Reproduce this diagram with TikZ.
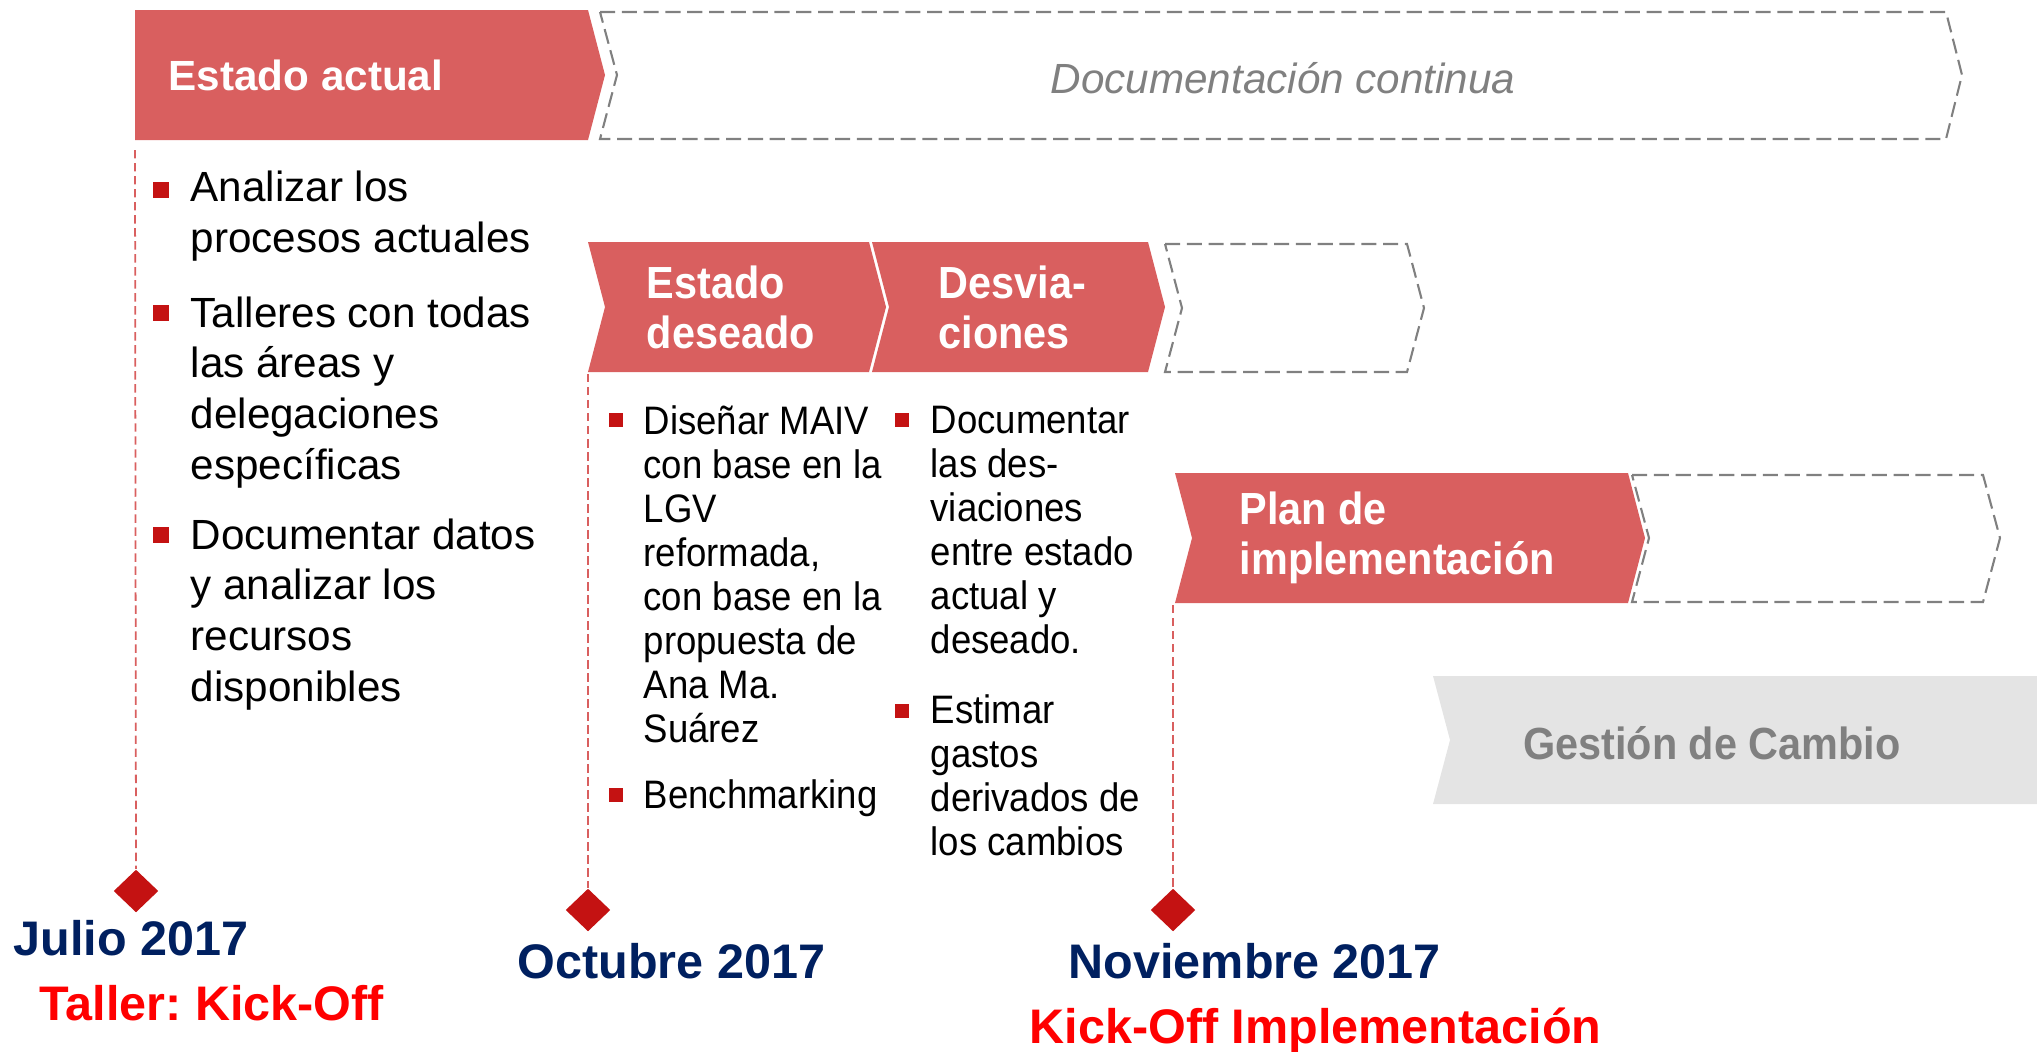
\documentclass[tikz,border=0pt]{standalone}
\usepackage{fontspec}
\setmainfont{Liberation Sans}
\newfontfamily\narrowfont[FakeStretch=0.92]{Liberation Sans}
\usetikzlibrary{shapes.geometric}
\frenchspacing

\definecolor{chevred}{RGB}{217,95,95}
\definecolor{bulred}{RGB}{196,18,18}
\definecolor{navy}{RGB}{0,32,96}
\definecolor{kickred}{RGB}{255,0,0}
\definecolor{dashgray}{RGB}{128,128,128}
\definecolor{changegray}{RGB}{228,228,228}

\tikzset{
  stage/.style={fill=chevred},
  later/.style={draw=dashgray, line width=0.6pt, dash pattern=on 4.3pt off 1.9pt},
  stagetext/.style={text=white, inner sep=0pt, align=left,
    font=\bfseries\fontsize{12}{14.4}\selectfont},
  narrowstage/.style={text=white, inner sep=0pt, align=left,
    font=\narrowfont\bfseries\fontsize{12.8}{14.2}\selectfont},
  latertext/.style={text=dashgray, inner sep=0pt,
    font=\itshape\fontsize{12}{14.4}\selectfont},
  % anchor base = baseline of the last line
  wideitem/.style={inner sep=0pt, align=left, anchor=base west,
    font=\fontsize{12}{14.4}\selectfont},
  narrowitem/.style={inner sep=0pt, align=left, anchor=base west,
    font=\narrowfont\fontsize{11.3}{12.5}\selectfont},
  bigsq/.style={fill=bulred, minimum size=0.165cm, inner sep=0pt},
  smallsq/.style={fill=bulred, minimum size=0.145cm, inner sep=0pt},
  tick/.style={draw=chevred, line width=0.5pt, dash pattern=on 2.4pt off 1.3pt},
  milestone/.style={diamond, fill=bulred, minimum width=0.45cm,
    minimum height=0.43cm, inner sep=0pt},
  datetext/.style={text=navy, inner sep=0pt, anchor=base west,
    font=\bfseries\fontsize{13.8}{16}\selectfont},
  eventtext/.style={text=kickred, inner sep=0pt, anchor=base west,
    font=\bfseries\fontsize{13.8}{16}\selectfont}
}

\begin{document}
\begin{tikzpicture}[x=0.01cm,y=-0.01cm]
  \useasboundingbox (0,0) rectangle (2037,1051);

  % Estado actual
  \fill[stage] (135,10) -- (588,10) -- (605,75) -- (588,140) -- (135,140) -- cycle;
  \node[stagetext, anchor=west] (actual) at (168,75) {Estado actual};
  \draw[later] (600,12) -- (1946,12) -- (1962,75) -- (1946,139) -- (600,139) -- (617,75) -- cycle;
  \node[latertext] (docu) at (1283,78) {Documentación continua};

  \node[bigsq] (sqA1) at (161,190) {};
  \node[wideitem] (itA1) at (190,252) {Analizar los\\procesos actuales};
  \node[bigsq] (sqA2) at (161,313) {};
  \node[wideitem] (itA2) at (190,479) {Talleres con todas\\las áreas y\\delegaciones\\específicas};
  \node[bigsq] (sqA3) at (161,535) {};
  \node[wideitem] (itA3) at (190,701) {Documentar datos\\y analizar los\\recursos\\disponibles};

  % Estado deseado / Desviaciones
  \fill[stage] (588,242) -- (869,242) -- (886,307) -- (869,372) -- (588,372) -- (605,307) -- cycle;
  \node[narrowstage, anchor=west] (deseado) at (646,307) {Estado\\deseado};
  \fill[stage] (872,242) -- (1148,242) -- (1165,307) -- (1148,372) -- (872,372) -- (889,307) -- cycle;
  \node[narrowstage, anchor=west] (desv) at (938,307) {Desvia-\\ciones};
  \draw[later] (1165,244) -- (1407,244) -- (1424,308) -- (1407,372) -- (1165,372) -- (1182,308) -- cycle;

  \node[smallsq] (sqB1) at (616,420) {};
  \node[narrowitem] (itB1) at (643,742) {Diseñar MAIV\\con base en la\\LGV\\reformada,\\con base en la\\propuesta de\\Ana Ma.\\Suárez};
  \node[smallsq] (sqB2) at (616,795) {};
  \node[narrowitem] (itB2) at (643,808) {Benchmarking};
  \node[smallsq] (sqC1) at (902,420) {};
  \node[narrowitem] (itC1) at (930,653) {Documentar\\las des-\\viaciones\\entre estado\\actual y\\deseado.};
  \node[smallsq] (sqC2) at (902,711) {};
  \node[narrowitem] (itC2) at (930,855) {Estimar\\gastos\\derivados de\\los cambios};

  % Plan de implementacion
  \fill[stage] (1175,473) -- (1628,473) -- (1645,538) -- (1628,603) -- (1175,603) -- (1192,538) -- cycle;
  \node[narrowstage, anchor=west] (plan) at (1239,538) {Plan de\\implementación};
  \draw[later] (1632,475) -- (1983,475) -- (2000,538) -- (1983,602) -- (1632,602) -- (1649,538) -- cycle;

  % Gestion de cambio
  \fill[changegray] (1433,676) -- (2037,676) -- (2037,804) -- (1433,804) -- (1450,740) -- cycle;
  \node[narrowstage, text=dashgray] (cambio) at (1712,743) {Gestión de Cambio};

  % hitos
  \node[milestone] (julD) at (136,891) {};
  \node[milestone] (octD) at (588,910) {};
  \node[milestone] (novD) at (1173,910) {};
  \coordinate (julT) at (135,150);
  \coordinate (octT) at (588,374);
  \coordinate (novT) at (1173,605);
  \draw[tick] (julT) -- (julD.north);
  \draw[tick] (octT) -- (octD.north);
  \draw[tick] (novT) -- (novD.north);

  \node[datetext] (julio) at (13,955) {Julio 2017};
  \node[eventtext] (taller) at (39,1020) {Taller: Kick-Off};
  \node[datetext] (octubre) at (517,978) {Octubre 2017};
  \node[datetext] (noviembre) at (1068,978) {Noviembre 2017};
  \node[eventtext] (kickoff) at (1029,1043) {Kick-Off Implementación};
\end{tikzpicture}
\end{document}
